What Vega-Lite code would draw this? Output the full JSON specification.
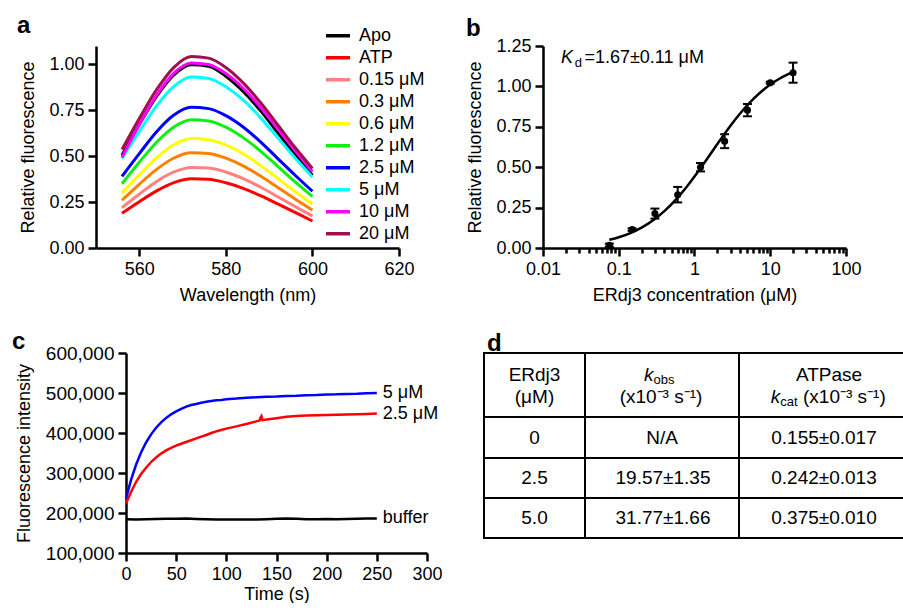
{
  "$schema": "https://vega.github.io/schema/vega-lite/v6.json",
  "background": "white",
  "padding": {"left": 12, "top": 14, "right": 0, "bottom": 0},
  "config": {
    "font": "Liberation Sans",
    "view": {"stroke": null},
    "axis": {"domainColor": "black", "domainWidth": 2.5, "tickColor": "black", "tickWidth": 2.5, "tickSize": 8, "labelColor": "black", "titleColor": "black", "labelFontSize": 18, "titleFontSize": 18, "titleFontWeight": "normal", "grid": false, "labelPadding": 4, "titlePadding": 8, "labelFont": "Liberation Sans", "titleFont": "Liberation Sans", "labelFlush": false, "labelOverlap": false},
    "axisY": {"titlePadding": 11},
    "legend": {"labelFont": "Liberation Sans"},
    "title": {"fontSize": 24, "fontWeight": "bold", "anchor": "start", "frame": "group", "color": "black", "font": "Liberation Sans"},
    "text": {"font": "Liberation Sans", "color": "black"}
  },
  "datasets": {
    "spectra": [
      {"s":"Apo","w":556,"v":0.505},{"s":"Apo","w":560,"v":0.672},{"s":"Apo","w":564,"v":0.826},{"s":"Apo","w":568,"v":0.943},{"s":"Apo","w":572,"v":0.998},{"s":"Apo","w":576,"v":0.990},{"s":"Apo","w":580,"v":0.935},{"s":"Apo","w":584,"v":0.852},{"s":"Apo","w":588,"v":0.748},{"s":"Apo","w":592,"v":0.628},{"s":"Apo","w":596,"v":0.508},{"s":"Apo","w":600,"v":0.396},
      {"s":"ATP","w":556,"v":0.189},{"s":"ATP","w":560,"v":0.252},{"s":"ATP","w":564,"v":0.311},{"s":"ATP","w":568,"v":0.356},{"s":"ATP","w":572,"v":0.377},{"s":"ATP","w":576,"v":0.374},{"s":"ATP","w":580,"v":0.355},{"s":"ATP","w":584,"v":0.325},{"s":"ATP","w":588,"v":0.285},{"s":"ATP","w":592,"v":0.240},{"s":"ATP","w":596,"v":0.194},{"s":"ATP","w":600,"v":0.147},
      {"s":"0.15 μM","w":556,"v":0.220},{"s":"0.15 μM","w":560,"v":0.293},{"s":"0.15 μM","w":564,"v":0.362},{"s":"0.15 μM","w":568,"v":0.414},{"s":"0.15 μM","w":572,"v":0.439},{"s":"0.15 μM","w":576,"v":0.435},{"s":"0.15 μM","w":580,"v":0.414},{"s":"0.15 μM","w":584,"v":0.378},{"s":"0.15 μM","w":588,"v":0.332},{"s":"0.15 μM","w":592,"v":0.279},{"s":"0.15 μM","w":596,"v":0.226},{"s":"0.15 μM","w":600,"v":0.174},
      {"s":"0.3 μM","w":556,"v":0.260},{"s":"0.3 μM","w":560,"v":0.347},{"s":"0.3 μM","w":564,"v":0.428},{"s":"0.3 μM","w":568,"v":0.490},{"s":"0.3 μM","w":572,"v":0.519},{"s":"0.3 μM","w":576,"v":0.514},{"s":"0.3 μM","w":580,"v":0.489},{"s":"0.3 μM","w":584,"v":0.447},{"s":"0.3 μM","w":588,"v":0.392},{"s":"0.3 μM","w":592,"v":0.330},{"s":"0.3 μM","w":596,"v":0.267},{"s":"0.3 μM","w":600,"v":0.206},
      {"s":"0.6 μM","w":556,"v":0.299},{"s":"0.6 μM","w":560,"v":0.398},{"s":"0.6 μM","w":564,"v":0.491},{"s":"0.6 μM","w":568,"v":0.562},{"s":"0.6 μM","w":572,"v":0.596},{"s":"0.6 μM","w":576,"v":0.590},{"s":"0.6 μM","w":580,"v":0.561},{"s":"0.6 μM","w":584,"v":0.513},{"s":"0.6 μM","w":588,"v":0.450},{"s":"0.6 μM","w":592,"v":0.379},{"s":"0.6 μM","w":596,"v":0.307},{"s":"0.6 μM","w":600,"v":0.240},
      {"s":"1.2 μM","w":556,"v":0.350},{"s":"1.2 μM","w":560,"v":0.467},{"s":"1.2 μM","w":564,"v":0.576},{"s":"1.2 μM","w":568,"v":0.659},{"s":"1.2 μM","w":572,"v":0.699},{"s":"1.2 μM","w":576,"v":0.692},{"s":"1.2 μM","w":580,"v":0.658},{"s":"1.2 μM","w":584,"v":0.601},{"s":"1.2 μM","w":588,"v":0.528},{"s":"1.2 μM","w":592,"v":0.445},{"s":"1.2 μM","w":596,"v":0.360},{"s":"1.2 μM","w":600,"v":0.281},
      {"s":"2.5 μM","w":556,"v":0.390},{"s":"2.5 μM","w":560,"v":0.514},{"s":"2.5 μM","w":564,"v":0.633},{"s":"2.5 μM","w":568,"v":0.724},{"s":"2.5 μM","w":572,"v":0.766},{"s":"2.5 μM","w":576,"v":0.759},{"s":"2.5 μM","w":580,"v":0.721},{"s":"2.5 μM","w":584,"v":0.659},{"s":"2.5 μM","w":588,"v":0.578},{"s":"2.5 μM","w":592,"v":0.487},{"s":"2.5 μM","w":596,"v":0.396},{"s":"2.5 μM","w":600,"v":0.309},
      {"s":"5 μM","w":556,"v":0.487},{"s":"5 μM","w":560,"v":0.635},{"s":"5 μM","w":564,"v":0.774},{"s":"5 μM","w":568,"v":0.880},{"s":"5 μM","w":572,"v":0.931},{"s":"5 μM","w":576,"v":0.923},{"s":"5 μM","w":580,"v":0.878},{"s":"5 μM","w":584,"v":0.806},{"s":"5 μM","w":588,"v":0.710},{"s":"5 μM","w":592,"v":0.600},{"s":"5 μM","w":596,"v":0.490},{"s":"5 μM","w":600,"v":0.387},
      {"s":"10 μM","w":556,"v":0.493},{"s":"10 μM","w":560,"v":0.672},{"s":"10 μM","w":564,"v":0.832},{"s":"10 μM","w":568,"v":0.952},{"s":"10 μM","w":572,"v":1.008},{"s":"10 μM","w":576,"v":0.999},{"s":"10 μM","w":580,"v":0.950},{"s":"10 μM","w":584,"v":0.870},{"s":"10 μM","w":588,"v":0.766},{"s":"10 μM","w":592,"v":0.648},{"s":"10 μM","w":596,"v":0.530},{"s":"10 μM","w":600,"v":0.415},
      {"s":"20 μM","w":556,"v":0.536},{"s":"20 μM","w":560,"v":0.705},{"s":"20 μM","w":564,"v":0.862},{"s":"20 μM","w":568,"v":0.984},{"s":"20 μM","w":572,"v":1.043},{"s":"20 μM","w":576,"v":1.034},{"s":"20 μM","w":580,"v":0.983},{"s":"20 μM","w":584,"v":0.899},{"s":"20 μM","w":588,"v":0.792},{"s":"20 μM","w":592,"v":0.670},{"s":"20 μM","w":596,"v":0.547},{"s":"20 μM","w":600,"v":0.433}
    ],
    "bind": [
      {"c":0.075,"y":0.017,"lo":0.007,"hi":0.027},
      {"c":0.15,"y":0.114,"lo":0.106,"hi":0.122},
      {"c":0.3,"y":0.213,"lo":0.182,"hi":0.244},
      {"c":0.6,"y":0.33,"lo":0.282,"hi":0.378},
      {"c":1.2,"y":0.5,"lo":0.474,"hi":0.526},
      {"c":2.5,"y":0.661,"lo":0.618,"hi":0.704},
      {"c":5,"y":0.853,"lo":0.815,"hi":0.891},
      {"c":10,"y":1.023,"lo":1.017,"hi":1.029},
      {"c":20,"y":1.085,"lo":1.023,"hi":1.147}
    ],
    "fit": [
      {"c":0.075,"y":0.0507},{"c":0.1,"y":0.0667},{"c":0.15,"y":0.0973},{"c":0.2,"y":0.1262},{"c":0.3,"y":0.1797},{"c":0.4,"y":0.228},{"c":0.6,"y":0.3119},{"c":0.8,"y":0.3822},{"c":1.0,"y":0.4419},{"c":1.2,"y":0.4934},{"c":1.5,"y":0.5584},{"c":2,"y":0.6431},{"c":2.5,"y":0.7074},{"c":3,"y":0.758},{"c":4,"y":0.8325},{"c":5,"y":0.8846},{"c":6,"y":0.9231},{"c":8,"y":0.9762},{"c":10,"y":1.0111},{"c":13,"y":1.0457},{"c":16,"y":1.0685},{"c":20,"y":1.0891}
    ],
    "kin": [
      {"s":"5 μM","t":0,"v":236000},{"s":"5 μM","t":5,"v":282600},{"s":"5 μM","t":10,"v":320500},{"s":"5 μM","t":15,"v":351200},{"s":"5 μM","t":20,"v":376300},{"s":"5 μM","t":25,"v":396600},{"s":"5 μM","t":30,"v":413200},{"s":"5 μM","t":35,"v":426700},{"s":"5 μM","t":40,"v":437700},{"s":"5 μM","t":45,"v":446700},{"s":"5 μM","t":50,"v":454100},{"s":"5 μM","t":55,"v":460200},{"s":"5 μM","t":60,"v":465800},{"s":"5 μM","t":65,"v":469800},{"s":"5 μM","t":70,"v":472700},{"s":"5 μM","t":75,"v":475500},{"s":"5 μM","t":80,"v":477900},{"s":"5 μM","t":85,"v":479900},{"s":"5 μM","t":90,"v":481600},{"s":"5 μM","t":95,"v":482600},{"s":"5 μM","t":100,"v":484300},{"s":"5 μM","t":110,"v":486000},{"s":"5 μM","t":120,"v":488300},{"s":"5 μM","t":130,"v":489100},{"s":"5 μM","t":140,"v":490800},{"s":"5 μM","t":150,"v":491200},{"s":"5 μM","t":160,"v":492700},{"s":"5 μM","t":170,"v":493200},{"s":"5 μM","t":180,"v":494500},{"s":"5 μM","t":190,"v":495000},{"s":"5 μM","t":200,"v":496200},{"s":"5 μM","t":210,"v":496600},{"s":"5 μM","t":220,"v":497800},{"s":"5 μM","t":230,"v":498200},{"s":"5 μM","t":240,"v":499400},{"s":"5 μM","t":250,"v":500000},
      {"s":"2.5 μM","t":0,"v":223500},{"s":"2.5 μM","t":5,"v":252500},{"s":"2.5 μM","t":10,"v":277500},{"s":"2.5 μM","t":15,"v":297500},{"s":"2.5 μM","t":20,"v":313000},{"s":"2.5 μM","t":25,"v":327500},{"s":"2.5 μM","t":30,"v":339000},{"s":"2.5 μM","t":35,"v":348500},{"s":"2.5 μM","t":40,"v":356500},{"s":"2.5 μM","t":45,"v":363000},{"s":"2.5 μM","t":50,"v":368500},{"s":"2.5 μM","t":55,"v":373000},{"s":"2.5 μM","t":60,"v":377500},{"s":"2.5 μM","t":65,"v":382000},{"s":"2.5 μM","t":70,"v":386500},{"s":"2.5 μM","t":75,"v":391000},{"s":"2.5 μM","t":80,"v":395000},{"s":"2.5 μM","t":85,"v":400000},{"s":"2.5 μM","t":90,"v":404000},{"s":"2.5 μM","t":95,"v":407500},{"s":"2.5 μM","t":100,"v":411000},{"s":"2.5 μM","t":110,"v":416500},{"s":"2.5 μM","t":120,"v":422500},{"s":"2.5 μM","t":130,"v":429000},{"s":"2.5 μM","t":133,"v":431000},{"s":"2.5 μM","t":134,"v":438000},{"s":"2.5 μM","t":135,"v":442000},{"s":"2.5 μM","t":136,"v":432000},{"s":"2.5 μM","t":140,"v":433500},{"s":"2.5 μM","t":150,"v":437000},{"s":"2.5 μM","t":160,"v":440500},{"s":"2.5 μM","t":170,"v":442500},{"s":"2.5 μM","t":180,"v":443500},{"s":"2.5 μM","t":190,"v":444500},{"s":"2.5 μM","t":200,"v":445000},{"s":"2.5 μM","t":210,"v":445800},{"s":"2.5 μM","t":220,"v":446500},{"s":"2.5 μM","t":230,"v":447000},{"s":"2.5 μM","t":240,"v":447800},{"s":"2.5 μM","t":250,"v":448500},
      {"s":"buffer","t":0,"v":184500},{"s":"buffer","t":10,"v":184000},{"s":"buffer","t":20,"v":184500},{"s":"buffer","t":30,"v":185000},{"s":"buffer","t":40,"v":185500},{"s":"buffer","t":50,"v":185500},{"s":"buffer","t":60,"v":186000},{"s":"buffer","t":70,"v":185000},{"s":"buffer","t":80,"v":184500},{"s":"buffer","t":90,"v":184000},{"s":"buffer","t":100,"v":184000},{"s":"buffer","t":110,"v":183500},{"s":"buffer","t":120,"v":184000},{"s":"buffer","t":130,"v":184000},{"s":"buffer","t":140,"v":184500},{"s":"buffer","t":150,"v":185500},{"s":"buffer","t":160,"v":186500},{"s":"buffer","t":170,"v":185500},{"s":"buffer","t":180,"v":184500},{"s":"buffer","t":190,"v":184500},{"s":"buffer","t":200,"v":185000},{"s":"buffer","t":210,"v":184500},{"s":"buffer","t":220,"v":185000},{"s":"buffer","t":230,"v":185500},{"s":"buffer","t":240,"v":186000},{"s":"buffer","t":250,"v":186500}
    ],
    "kinlab": [
      {"s":"5 μM","t":250,"v":500000},
      {"s":"2.5 μM","t":250,"v":448500},
      {"s":"buffer","t":250,"v":186500}
    ],
    "tlines": [
      {"x1":0,"x2":4.18,"y1":0,"y2":0},
      {"x1":0,"x2":4.18,"y1":0.64,"y2":0.64},
      {"x1":0,"x2":4.18,"y1":1.05,"y2":1.05},
      {"x1":0,"x2":4.18,"y1":1.45,"y2":1.45},
      {"x1":0,"x2":4.18,"y1":1.85,"y2":1.85},
      {"x1":0,"x2":0,"y1":0,"y2":1.85},
      {"x1":1.01,"x2":1.01,"y1":0,"y2":1.85},
      {"x1":2.55,"x2":2.55,"y1":0,"y2":1.85}
    ],
    "tcells": [
      {"x":0.505,"y":0.277,"t":"ERdj3"},
      {"x":0.505,"y":0.497,"t":"(μM)"},
      {"x":1.77,"y":0.497,"t":"(x10⁻³ s⁻¹)"},
      {"x":3.45,"y":0.277,"t":"ATPase"},
      {"x":0.505,"y":0.914,"t":"0"},
      {"x":1.78,"y":0.914,"t":"N/A"},
      {"x":3.40,"y":0.914,"t":"0.155±0.017"},
      {"x":0.505,"y":1.314,"t":"2.5"},
      {"x":1.79,"y":1.314,"t":"19.57±1.35"},
      {"x":3.40,"y":1.314,"t":"0.242±0.013"},
      {"x":0.505,"y":1.714,"t":"5.0"},
      {"x":1.79,"y":1.714,"t":"31.77±1.66"},
      {"x":3.40,"y":1.714,"t":"0.375±0.010"}
    ]
  },
  "resolve": {"scale": {"color": "independent"}},
  "spacing": 26,
  "vconcat": [
    {
      "hconcat": [
        {
          "width": 303, "height": 202,
          "title": {"text": "a", "dx": -79, "offset": 8},
          "data": {"name": "spectra"},
          "mark": {"type": "line", "strokeWidth": 3, "interpolate": "monotone"},
          "encoding": {
            "x": {"field": "w", "type": "quantitative", "scale": {"domain": [550, 620], "nice": false, "zero": false}, "axis": {"values": [560, 580, 600, 620], "title": "Wavelength (nm)"}},
            "y": {"field": "v", "type": "quantitative", "scale": {"domain": [0, 1.1], "nice": false}, "axis": {"values": [0, 0.25, 0.5, 0.75, 1], "format": ".2f", "title": "Relative fluorescence"}},
            "color": {"field": "s", "type": "nominal",
              "scale": {"domain": ["Apo", "ATP", "0.15 μM", "0.3 μM", "0.6 μM", "1.2 μM", "2.5 μM", "5 μM", "10 μM", "20 μM"],
                        "range": ["#000000", "#ff0000", "#ff8080", "#ff8000", "#ffff00", "#11ee11", "#0000ff", "#00ffff", "#ff00ff", "#a0104f"]},
              "legend": {"orient": "none", "legendX": 228, "legendY": -21, "title": null, "symbolType": "stroke", "symbolStrokeWidth": 3.5, "symbolSize": 576, "labelFontSize": 18, "labelColor": "black", "labelOffset": 7, "rowPadding": -0.5, "clipHeight": 21.4, "padding": 0, "labelLimit": 200}}
          }
        },
        {
          "width": 303, "height": 202,
          "title": {"text": "b", "dx": -77, "offset": -4},
          "encoding": {
            "x": {"field": "c", "type": "quantitative", "scale": {"type": "log", "domain": [0.01, 100], "nice": false},
              "axis": {"title": "ERdj3 concentration (μM)",
                "values": [0.01,0.02,0.03,0.04,0.05,0.06,0.07,0.08,0.09,0.1,0.2,0.3,0.4,0.5,0.6,0.7,0.8,0.9,1,2,3,4,5,6,7,8,9,10,20,30,40,50,60,70,80,90,100],
                "labelExpr": "datum.value == 0.01 ? '0.01' : datum.value == 0.1 ? '0.1' : datum.value == 1 ? '1' : datum.value == 10 ? '10' : datum.value == 100 ? '100' : ''",
                "tickSize": {"condition": {"test": "datum.value == 0.01 || datum.value == 0.1 || datum.value == 1 || datum.value == 10 || datum.value == 100", "value": 8}, "value": 5}}},
            "y": {"field": "y", "type": "quantitative", "scale": {"domain": [0, 1.25], "nice": false}, "axis": {"values": [0, 0.25, 0.5, 0.75, 1, 1.25], "format": ".2f", "title": "Relative fluorescence"}}
          },
          "layer": [
            {"data": {"name": "fit"}, "mark": {"type": "line", "color": "black", "strokeWidth": 2.5, "interpolate": "monotone"}},
            {"data": {"name": "bind"}, "mark": {"type": "rule", "color": "black", "strokeWidth": 2}, "encoding": {"y": {"field": "lo", "type": "quantitative"}, "y2": {"field": "hi"}}},
            {"data": {"name": "bind"}, "mark": {"type": "tick", "orient": "horizontal", "color": "black", "thickness": 2, "size": 9, "opacity": 1}, "encoding": {"y": {"field": "lo", "type": "quantitative"}}},
            {"data": {"name": "bind"}, "mark": {"type": "tick", "orient": "horizontal", "color": "black", "thickness": 2, "size": 9, "opacity": 1}, "encoding": {"y": {"field": "hi", "type": "quantitative"}}},
            {"data": {"name": "bind"}, "mark": {"type": "circle", "color": "black", "size": 50, "opacity": 1}},
            {"data": {"values": [{"c": 0.01734, "y": 1.145, "t": "K"}]}, "mark": {"type": "text", "fontStyle": "italic", "fontSize": 18, "align": "left", "baseline": "alphabetic"}, "encoding": {"text": {"field": "t"}}},
            {"data": {"values": [{"c": 0.0262, "y": 1.145, "t": "d"}]}, "mark": {"type": "text", "fontSize": 13, "align": "left", "baseline": "alphabetic", "dy": 4}, "encoding": {"text": {"field": "t"}}},
            {"data": {"values": [{"c": 0.0352, "y": 1.145, "t": "=1.67±0.11 μM"}]}, "mark": {"type": "text", "fontSize": 18, "align": "left", "baseline": "alphabetic"}, "encoding": {"text": {"field": "t"}}}
          ]
        }
      ],
      "spacing": 144,
      "bounds": "flush"
    },
    {
      "hconcat": [
        {
          "width": 331, "height": 200,
          "title": {"text": "c", "dx": -84, "offset": -10},
          "encoding": {
            "x": {"field": "t", "type": "quantitative", "scale": {"domain": [0, 300], "range": [30, 331], "nice": false, "zero": false}, "axis": {"values": [0, 50, 100, 150, 200, 250, 300], "title": "Time (s)", "titlePadding": 2}},
            "y": {"field": "v", "type": "quantitative", "scale": {"domain": [100000, 600000], "nice": false, "zero": false}, "axis": {"values": [100000, 200000, 300000, 400000, 500000, 600000], "format": ",d", "title": "Fluorescence intensity", "offset": -30, "labelFontSize": 19, "titlePadding": 12}}
          },
          "layer": [
            {"data": {"name": "kin"}, "mark": {"type": "line", "strokeWidth": 2.5},
             "encoding": {"color": {"field": "s", "type": "nominal", "scale": {"domain": ["5 μM", "2.5 μM", "buffer"], "range": ["#0000ff", "#ff0000", "#000000"]}, "legend": null}}},
            {"data": {"name": "kinlab"}, "mark": {"type": "text", "align": "left", "baseline": "middle", "dx": 6, "fontSize": 18}, "encoding": {"text": {"field": "s"}}}
          ]
        },
        {
          "width": 418, "height": 185,
          "title": {"text": "d", "dx": 3, "offset": -4},
          "layer": [
            {"data": {"name": "tlines"}, "mark": {"type": "rule", "color": "black", "strokeWidth": 2, "strokeCap": "square"},
             "encoding": {
               "x": {"field": "x1", "type": "quantitative", "scale": {"domain": [0, 4.18], "nice": false, "zero": false}, "axis": null},
               "x2": {"field": "x2"},
               "y": {"field": "y1", "type": "quantitative", "scale": {"domain": [0, 1.85], "reverse": true, "nice": false, "zero": false}, "axis": null},
               "y2": {"field": "y2"}}},
            {"data": {"name": "tcells"}, "mark": {"type": "text", "fontSize": 19, "align": "center", "baseline": "alphabetic"},
             "encoding": {"x": {"field": "x", "type": "quantitative", "axis": null}, "y": {"field": "y", "type": "quantitative", "axis": null}, "text": {"field": "t"}}},
            {"data": {"values": [{"x": 1.60, "y": 0.277, "t": "k"}, {"x": 2.867, "y": 0.497, "t": "k"}]}, "mark": {"type": "text", "fontSize": 19, "fontStyle": "italic", "align": "left", "baseline": "alphabetic"},
             "encoding": {"x": {"field": "x", "type": "quantitative", "axis": null}, "y": {"field": "y", "type": "quantitative", "axis": null}, "text": {"field": "t"}}},
            {"data": {"values": [{"x": 1.695, "y": 0.31, "t": "obs"}, {"x": 2.962, "y": 0.53, "t": "cat"}]}, "mark": {"type": "text", "fontSize": 13, "align": "left", "baseline": "alphabetic"},
             "encoding": {"x": {"field": "x", "type": "quantitative", "axis": null}, "y": {"field": "y", "type": "quantitative", "axis": null}, "text": {"field": "t"}}},
            {"data": {"values": [{"x": 3.19, "y": 0.497, "t": "(x10⁻³ s⁻¹)"}]}, "mark": {"type": "text", "fontSize": 19, "align": "left", "baseline": "alphabetic"},
             "encoding": {"x": {"field": "x", "type": "quantitative", "axis": null}, "y": {"field": "y", "type": "quantitative", "axis": null}, "text": {"field": "t"}}}
          ]
        }
      ],
      "spacing": 57,
      "bounds": "flush"
    }
  ]
}
